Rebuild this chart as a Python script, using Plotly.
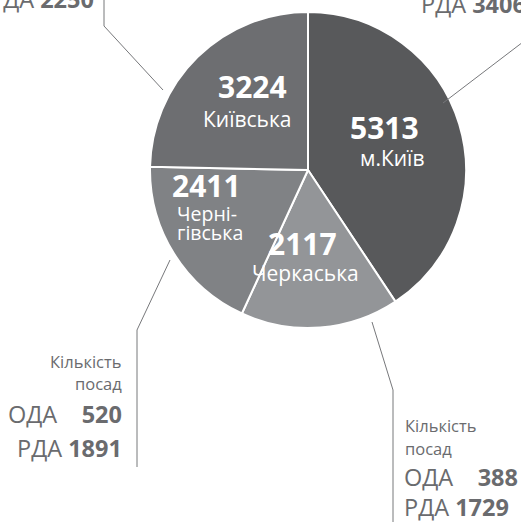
import plotly.graph_objects as go

W, H = 521, 522

# Data
regions = ["м.Київ", "Черкаська", "Чернігівська", "Київська"]
values = [5313, 2117, 2411, 3224]
colors = ["#58595b", "#939598", "#808285", "#6d6e71"]

# Outside notes (posts)
cherk_oda, cherk_rda = 388, 1729
chern_oda, chern_rda = 520, 1891
kyivska_rda = 2250
kyiv_rda = 3406

def px(x):
    return x / W

def py(y):
    return 1 - y / H

cx, cy, r = 308, 170, 158

fig = go.Figure(go.Pie(
    labels=regions,
    values=values,
    sort=False,
    direction="clockwise",
    rotation=0,
    marker=dict(colors=colors, line=dict(color="white", width=2)),
    textinfo="none",
    hoverinfo="skip",
    domain=dict(x=[px(cx - r), px(cx + r)], y=[py(cy + r), py(cy - r)]),
    showlegend=False,
))

FONT = "Open Sans"
WHITE = "white"
GREY = "#6a6b6e"

ann = []

def add(text, x, y, size, color, xanchor="center"):
    ann.append(dict(text=text, x=px(x), y=py(y), xref="paper", yref="paper",
                    xanchor=xanchor, yanchor="middle", showarrow=False,
                    font=dict(family=FONT, size=size, color=color)))

NUM = 30
NAME = 21

# Inside labels
add(f"<b>{values[0]}</b>", 384, 127, NUM, WHITE)
add(regions[0], 392, 158, NAME, WHITE)
add(f"<b>{values[3]}</b>", 252, 86, NUM, WHITE)
add(regions[3], 247, 119, NAME, WHITE)
add(f"<b>{values[2]}</b>", 170, 185, NUM, WHITE, xanchor="left")
add("Черні-", 175, 213, 19.5, WHITE, xanchor="left")
add("гівська", 175, 232, 19.5, WHITE, xanchor="left")
add(f"<b>{values[1]}</b>", 302, 244, NUM, WHITE)
add(regions[1], 305, 273, NAME, WHITE)

SMALL = 16.5
BIG = 23.5

# Bottom left (Чернігівська)
add("Кількість", 124, 361, SMALL, GREY, xanchor="right")
add("посад", 124, 383, SMALL, GREY, xanchor="right")
add(f"ОДА    <b>{chern_oda}</b>", 124, 414, BIG, GREY, xanchor="right")
add(f"РДА <b>{chern_rda}</b>", 124, 448, BIG, GREY, xanchor="right")

# Bottom right (Черкаська)
add("Кількість", 403, 425, SMALL, GREY, xanchor="left")
add("посад", 403, 448, SMALL, GREY, xanchor="left")
add(f"ОДА    <b>{cherk_oda}</b>", 402, 477, BIG, GREY, xanchor="left")
add(f"РДА <b>{cherk_rda}</b>", 402, 507, BIG, GREY, xanchor="left")

# Top left (Київська) - clipped at the edge
add(f"РДА <b>{kyivska_rda}</b>", 96, -1, BIG, GREY, xanchor="right")
# Top right (м.Київ) - clipped at the edge
add(f"РДА <b>{kyiv_rda}</b>", 419, 4, BIG, GREY, xanchor="left")

LINE = dict(color="#77787b", width=1)

def seg(x0, y0, x1, y1):
    return dict(type="line", xref="paper", yref="paper",
                x0=px(x0), y0=py(y0), x1=px(x1), y1=py(y1), line=LINE)

shapes = [
    seg(104, -2, 104, 26), seg(104, 26, 163, 90),
    seg(523, 42, 443, 103),
    seg(170, 260, 137, 330), seg(137, 330, 137, 467),
    seg(372, 322, 393, 390), seg(393, 390, 393, 524),
]

fig.update_layout(
    width=W, height=H,
    margin=dict(l=0, r=0, t=0, b=0),
    paper_bgcolor="white", plot_bgcolor="white",
    annotations=ann, shapes=shapes,
    hovermode=False,
)

fig.write_html("out.html", config={"displayModeBar": False})
